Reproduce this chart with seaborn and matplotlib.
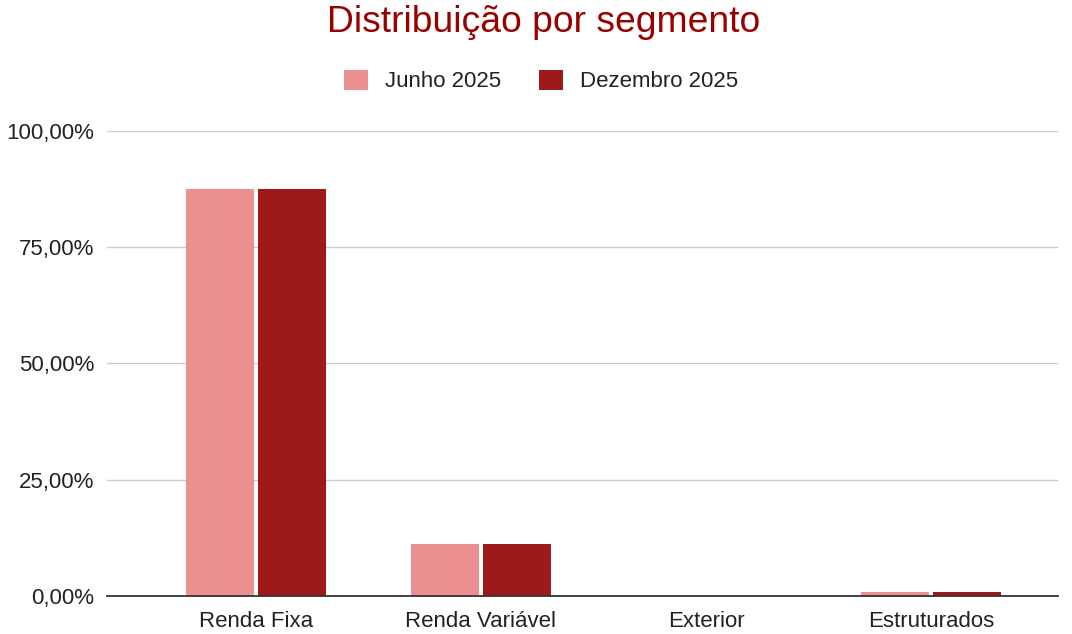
import pandas as pd
import matplotlib.pyplot as plt
import seaborn as sns
from matplotlib.ticker import FuncFormatter

# dados
categorias = ['Renda Fixa', 'Renda Variável', 'Exterior', 'Estruturados']
junho_2025 = [87.5, 11.2, 0.0, 0.9]
dezembro_2025 = [87.5, 11.2, 0.0, 0.9]
series = ['Junho 2025', 'Dezembro 2025']
cores = ['#EA9090', '#9E1A1A']
yticks = [0, 25, 50, 75, 100]

df = pd.DataFrame({
    'Segmento': categorias * 2,
    'Valor': junho_2025 + dezembro_2025,
    'Serie': [series[0]] * len(categorias) + [series[1]] * len(categorias),
})

sns.set_style('white')
plt.rcParams['font.family'] = ['Liberation Sans', 'DejaVu Sans']

fig = plt.figure(figsize=(10.72, 6.34), dpi=100)
ax = fig.add_axes([0.0998, 0.06, 0.887, 0.7334])

sns.barplot(data=df, x='Segmento', y='Valor', hue='Serie', palette=cores,
            width=0.64, gap=0.06, ax=ax, legend=True, saturation=1, linewidth=0)

ax.set_ylim(0, 100)
ax.set_xlim(-0.662, 3.564)
ax.set_yticks(yticks)
ax.yaxis.set_major_formatter(FuncFormatter(lambda v, p: f'{v:.2f}%'.replace('.', ',')))
ax.grid(axis='y', color='#CCCCCC', linewidth=1)
ax.set_axisbelow(True)
for s in ['top', 'right', 'left']:
    ax.spines[s].set_visible(False)
ax.spines['bottom'].set_color('#333333')
ax.spines['bottom'].set_linewidth(1.3)
ax.tick_params(axis='both', length=0, labelsize=16, colors='#222222')
ax.tick_params(axis='x', pad=11)
ax.tick_params(axis='y', pad=9)
ax.set_xlabel('')
ax.set_ylabel('')

leg = ax.legend(loc='center', ncol=2, frameon=False, fontsize=16,
                handlelength=1.05, handleheight=1.05,
                columnspacing=1.7, handletextpad=0.8)
leg.set_bbox_to_anchor((0.505, 1 - 81 / 634), transform=fig.transFigure)
for t in leg.get_texts():
    t.set_color('#222222')

fig.text(0.507, 1 - 22 / 634, 'Distribuição por segmento', ha='center', va='center',
         fontsize=26.8, color='#990000')

fig.savefig('out.png', dpi=100)
